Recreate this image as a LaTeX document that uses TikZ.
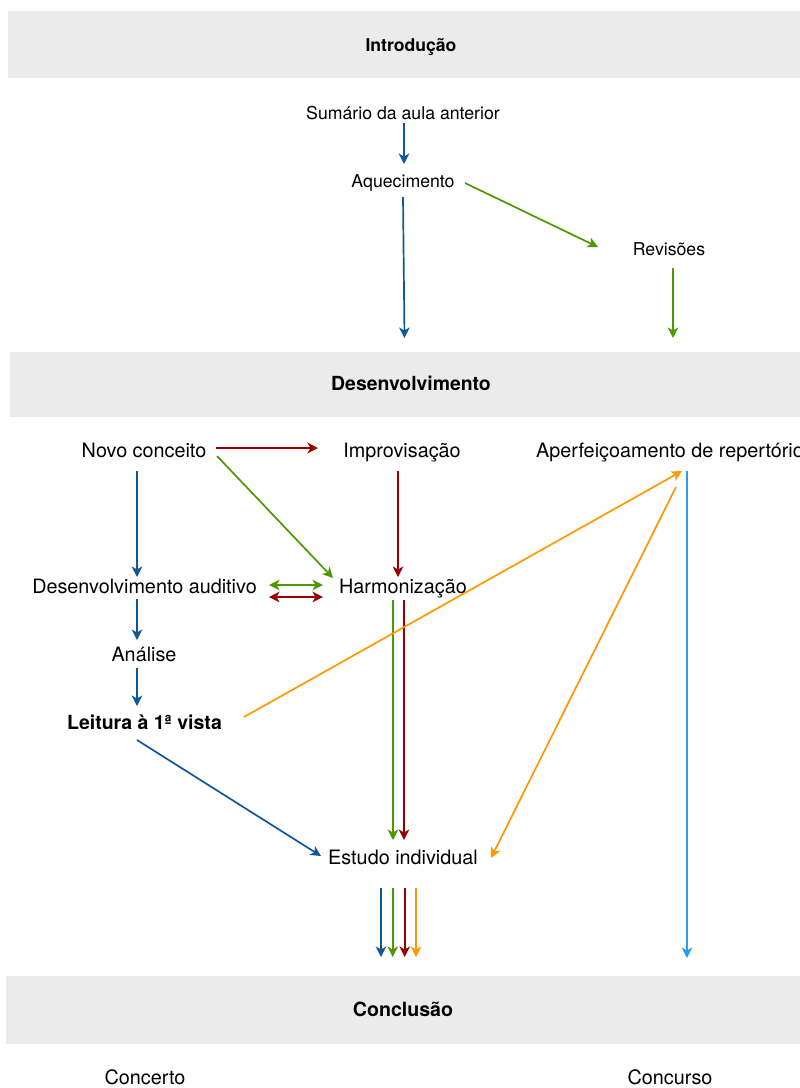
\documentclass[tikz,border=0pt]{standalone}
\usepackage{fontspec}
\setmainfont{TeX Gyre Heros}
\usetikzlibrary{arrows.meta,calc}
\definecolor{cblue}{HTML}{10579A}
\definecolor{cgreen}{HTML}{4D9900}
\definecolor{cred}{HTML}{990000}
\definecolor{corange}{HTML}{FF9900}
\definecolor{clight}{HTML}{2A9BF5}
\definecolor{bandgray}{HTML}{EBEBEB}
\begin{document}
\begin{tikzpicture}[x=1pt,y=-1pt,
  lbl/.style={inner sep=0pt, text height=1.07em, text depth=0pt},
  small/.style={lbl, font=\fontsize{17.7}{20}\selectfont},
  big/.style={lbl, font=\fontsize{19.8}{22}\selectfont},
  bandbox/.style={fill=bandgray, draw=none, inner sep=0pt},
  conn/.style={line width=1.7pt, -{Stealth[length=10.5pt,width=10.5pt,inset=3pt]}},
  dconn/.style={line width=1.7pt, {Stealth[length=10.5pt,width=10.5pt,inset=3pt]}-{Stealth[length=10.5pt,width=10.5pt,inset=3pt]}},
  bl/.style={conn, draw=cblue},
  gr/.style={conn, draw=cgreen},
  rd/.style={conn, draw=cred},
  org/.style={conn, draw=corange},
  lb/.style={conn, draw=clight},
]
\useasboundingbox (0,0) rectangle (800,1088);

% bands
\node[bandbox, minimum width=806pt, minimum height=67pt] (intro) at (411,44.5) {};
\node[lbl, font=\fontsize{17.6}{20}\selectfont\bfseries] (introt) at (411,46) {Introdução};
\node[bandbox, minimum width=802pt, minimum height=65pt] (dev) at (411,384.5) {};
\node[lbl, font=\fontsize{19.4}{22}\selectfont\bfseries] (devt) at (411,385) {Desenvolvimento};
\node[bandbox, minimum width=794pt, minimum height=68pt] (concl) at (403,1010) {};
\node[lbl, font=\fontsize{19.6}{22}\selectfont\bfseries] (conclt) at (403,1011) {Conclusão};

% intro nodes
\node[small] (sum) at (403,114) {Sumário da aula anterior};
\node[small] (aq) at (403,182) {Aquecimento};
\node[small] (rev) at (669,250) {Revisões};

% development nodes
\node[big] (nc) at (144,452) {Novo conceito};
\node[big] (imp) at (402,452) {Improvisação};
\node[big, anchor=west] (aper) at (536,452) {Aperfeiçoamento de repertório};
\node[big] (da) at (144.5,588) {Desenvolvimento auditivo};
\node[big] (harm) at (403,588) {Harmonização};
\node[big] (an) at (144,656) {Análise};
\node[big, font=\fontsize{19.5}{22}\selectfont\bfseries] (lv) at (144.5,724) {Leitura à 1ª vista};
\node[big] (est) at (403,859) {Estudo individual};

% conclusion nodes
\node[big] (conc) at (145,1079) {Concerto};
\node[big] (conk) at (670,1079) {Concurso};

% intro connectors
\draw[bl] ($(sum)+(1,9)$) -- ($(aq)+(1,-18)$);
\draw[bl] ($(aq)+(0,15)$) -- ($(dev)+(-6.5,-46.5)$);
\draw[gr] ($(aq)+(62,1)$) -- ($(rev)+(-71,-3)$);
\draw[gr] ($(rev)+(4,18)$) -- ($(dev)+(262,-46.5)$);

% development connectors
\draw[rd] ($(nc)+(72,-4)$) -- ($(imp)+(-84,-4)$);
\draw[gr] ($(nc)+(73,4)$) -- ($(harm)+(-70,-10)$);
\draw[bl] ($(nc)+(-7,19)$) -- ($(da)+(-7.5,-11)$);
\draw[rd] ($(imp)+(-4,19)$) -- ($(harm)+(-5,-11)$);
\draw[dconn, draw=cgreen] ($(da)+(124.5,-3)$) -- ($(harm)+(-80,-3)$);
\draw[dconn, draw=cred] ($(da)+(124.5,9)$) -- ($(harm)+(-80,9)$);
\draw[bl] ($(da)+(-7.5,11)$) -- ($(an)+(-7,-16)$);
\draw[bl] ($(an)+(-7,12)$) -- ($(lv)+(-7.5,-18)$);
\draw[gr] ($(harm)+(-10,12)$) -- ($(est)+(-10,-19)$);
\draw[rd] ($(harm)+(1,12)$) -- ($(est)+(1,-19)$);
\draw[bl] ($(lv)+(-7.5,16)$) -- ($(est)+(-82,-3)$);
\draw[org] ($(lv)+(99.5,-7)$) -- ($(aper.west)+(146,19)$);
\draw[org] ($(aper.west)+(140,35)$) -- ($(est)+(88,-1)$);
\draw[lb] ($(aper.west)+(151,19)$) -- ($(concl)+(284,-52)$);

% to conclusion
\draw[bl] ($(est)+(-22,29)$) -- ($(concl)+(-22,-53)$);
\draw[gr] ($(est)+(-10.3,29)$) -- ($(concl)+(-10.3,-53)$);
\draw[rd] ($(est)+(1.7,29)$) -- ($(concl)+(1.7,-53)$);
\draw[org] ($(est)+(13,29)$) -- ($(concl)+(13,-53)$);
\end{tikzpicture}
\end{document}
